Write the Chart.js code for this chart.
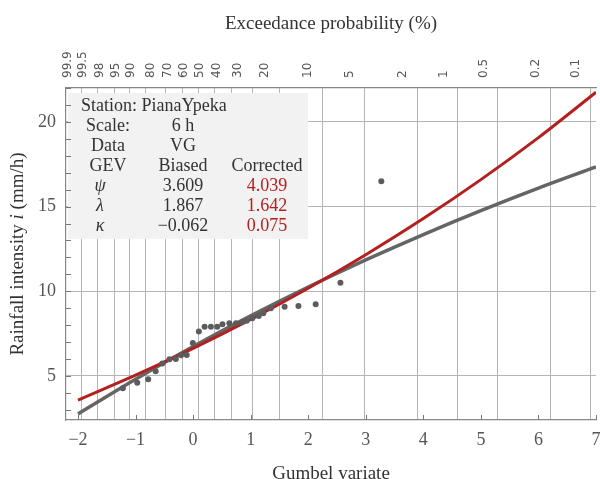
<!DOCTYPE html>
<html>
<head>
<meta charset="utf-8">
<script src="https://cdn.jsdelivr.net/npm/chart.js@4.4.0/dist/chart.umd.min.js"></script>
<style>
  html, body { margin: 0; padding: 0; background: #fff; }
</style>
</head>
<body>
<canvas id="chart" width="600" height="479"></canvas>
<script>
const curveX = [-2, -1, 0, 1, 2, 3, 4, 5, 6, 7];
const biasedFit = [2.76, 4.81, 6.74, 8.55, 10.25, 11.85, 13.35, 14.76, 16.09, 17.34];
const correctedFit = [3.58, 5.05, 6.63, 8.34, 10.18, 12.16, 14.29, 16.59, 19.07, 21.75];

// observed maxima (Gumbel variate, intensity)
const obsX = [-1.22, -0.97, -0.78, -0.65, -0.535, -0.41, -0.30, -0.21, -0.11, -0.005, 0.10, 0.20, 0.31, 0.42,
  0.51, 0.63, 0.745, 0.85, 0.93, 1.03, 1.14, 1.22, 1.35, 1.59, 1.83, 2.13, 2.56, 3.27];
const obsY = [4.27, 4.60, 4.80, 5.28, 5.73, 5.98, 6.00, 6.22, 6.24, 6.95, 7.62, 7.91, 7.91, 7.91,
  8.05, 8.11, 8.11, 8.17, 8.26, 8.40, 8.54, 8.70, 8.99, 9.09, 9.13, 9.23, 10.5, 16.5];

// axis ticks
const bottomTicks = [-2, -1, 0, 1, 2, 3, 4, 5, 6, 7];
const leftTicks = [5, 10, 15, 20];
const leftMinor = [3, 4, 5, 6, 7, 8, 9, 10, 11, 12, 13, 14, 15, 16, 17, 18, 19, 20, 21, 22];
const probLabels = ['99.9', '99.5', '98', '95', '90', '80', '70', '60', '50', '40', '30', '20',
  '10', '5', '2', '1', '0.5', '0.2', '0.1'];

// exceedance probability (%) -> Gumbel reduced variate
const gumbelOf = p => -Math.log(-Math.log(1 - p / 100));

const red = '#b3201f';
const grey = '#656565';
const serif = '"Liberation Serif", "Times New Roman", serif';

Chart.defaults.font.family = serif;
Chart.defaults.color = '#555';

const decor = {
    id: 'decor',
    beforeDatasetsDraw(chart) {
        const { ctx, chartArea: a, scales: { x, y } } = chart;
        const bx = a.left + 2, by = a.top + 5;
        ctx.save();
        // parameter box
        ctx.fillStyle = '#f2f2f2';
        ctx.fillRect(bx, by, 240, 146);

        // inward tick marks
        ctx.strokeStyle = '#777';
        ctx.lineWidth = 1;
        ctx.beginPath();
        bottomTicks.forEach(v => {
            const px = Math.round(x.getPixelForValue(v)) + 0.5;
            ctx.moveTo(px, a.bottom);
            ctx.lineTo(px, a.bottom - 5);
        });
        leftMinor.forEach(v => {
            const py = Math.round(y.getPixelForValue(v)) + 0.5;
            ctx.moveTo(a.left, py);
            ctx.lineTo(a.left + 5, py);
        });
        ctx.stroke();

        // table text
        ctx.fillStyle = '#333';
        ctx.textBaseline = 'middle';
        ctx.font = '18px ' + serif;
        ctx.textAlign = 'left';
        ctx.fillText('Station: PianaYpeka', bx + 13, by + 13);
        const c1 = bx + 40, cg = bx + 32, c2 = bx + 115, c3 = bx + 199;
        const row = i => by + 13 + i * 20;
        ctx.textAlign = 'center';
        ctx.fillText('Scale:', c1, row(1));
        ctx.fillText('6 h', c2, row(1));
        ctx.fillText('Data', c1, row(2));
        ctx.fillText('VG', c2, row(2));
        ctx.fillText('GEV', c1, row(3));
        ctx.fillText('Biased', c2, row(3));
        ctx.fillText('Corrected', c3, row(3));
        ctx.fillText('3.609', c2, row(4));
        ctx.fillText('1.867', c2, row(5));
        ctx.fillText('\u22120.062', c2, row(6));
        ctx.fillStyle = red;
        ctx.fillText('4.039', c3, row(4));
        ctx.fillText('1.642', c3, row(5));
        ctx.fillText('0.075', c3, row(6));
        ctx.fillStyle = '#333';
        ctx.font = 'italic 18px ' + serif;
        ctx.fillText('\u03c8', cg, row(4));
        ctx.fillText('\u03bb', cg, row(5));
        ctx.fillText('\u03ba', cg, row(6));
        ctx.restore();
    },
    afterDraw(chart) {
        // y axis title with italic i
        const { ctx, chartArea: a } = chart;
        const parts = [['Rainfall intensity ', ''], ['i', 'italic '], [' (mm/h)', '']];
        ctx.save();
        ctx.translate(18, (a.top + a.bottom) / 2);
        ctx.rotate(-Math.PI / 2);
        ctx.fillStyle = '#333';
        ctx.textBaseline = 'middle';
        ctx.textAlign = 'left';
        let total = 0;
        parts.forEach(p => { ctx.font = p[1] + '19px ' + serif; total += ctx.measureText(p[0]).width; });
        let cx = -total / 2;
        parts.forEach(p => {
            ctx.font = p[1] + '19px ' + serif;
            ctx.fillText(p[0], cx, 0);
            cx += ctx.measureText(p[0]).width;
        });
        ctx.restore();
    }
};

new Chart(document.getElementById('chart'), {
    type: 'line',
    data: {
        datasets: [
            {
                type: 'scatter',
                data: obsX.map((v, i) => ({ x: v, y: obsY[i] })),
                pointRadius: 3,
                pointBackgroundColor: '#5c5c5c',
                pointBorderWidth: 0,
                showLine: false
            },
            {
                data: curveX.map((v, i) => ({ x: v, y: correctedFit[i] })),
                borderColor: red,
                borderWidth: 3,
                pointRadius: 0,
                cubicInterpolationMode: 'monotone'
            },
            {
                data: curveX.map((v, i) => ({ x: v, y: biasedFit[i] })),
                borderColor: grey,
                borderWidth: 3.5,
                pointRadius: 0,
                cubicInterpolationMode: 'monotone'
            }
        ]
    },
    options: {
        responsive: false,
        animation: false,
        devicePixelRatio: 1,
        layout: { padding: 0 },
        plugins: { legend: { display: false }, tooltip: { enabled: false } },
        scales: {
            x: {
                type: 'linear',
                position: 'bottom',
                min: -2.208,
                max: 7,
                afterBuildTicks: s => { s.ticks = bottomTicks.map(v => ({ value: v })); },
                afterFit: s => { s.height = 59; s.paddingLeft = 0; s.paddingRight = 0; },
                grid: { display: false },
                border: { color: '#888', width: 1.2 },
                ticks: {
                    padding: 1,
                    font: { size: 18 },
                    color: '#555',
                    autoSkip: false,
                    maxRotation: 0,
                    callback: v => String(v).replace('-', '\u2212')
                },
                title: {
                    display: true,
                    text: 'Gumbel variate',
                    color: '#333',
                    font: { size: 19 },
                    padding: { top: 0, bottom: -6 }
                }
            },
            xTop: {
                type: 'linear',
                position: 'top',
                min: -2.208,
                max: 7,
                afterBuildTicks: s => { s.ticks = probLabels.map(p => ({ value: gumbelOf(parseFloat(p)) })); },
                afterFit: s => { s.height = 88; s.paddingLeft = 0; s.paddingRight = 0; },
                grid: { color: '#b4b4b4', lineWidth: 1, drawTicks: false },
                border: { color: '#888', width: 1.2 },
                ticks: {
                    padding: 10,
                    autoSkip: false,
                    minRotation: 90,
                    maxRotation: 90,
                    color: '#555',
                    font: { family: '"DejaVu Sans", sans-serif', size: 12 },
                    callback: (v, i) => probLabels[i]
                },
                title: {
                    display: true,
                    text: 'Exceedance probability (%)',
                    color: '#333',
                    font: { size: 19 },
                    padding: { top: 13, bottom: 0 }
                }
            },
            y: {
                type: 'linear',
                min: 2.4,
                max: 22,
                afterBuildTicks: s => { s.ticks = leftTicks.map(v => ({ value: v })); },
                afterFit: s => { s.width = 66; },
                grid: { color: '#b4b4b4', lineWidth: 1, drawTicks: false },
                border: { color: '#888', width: 1.2 },
                ticks: { padding: 10, font: { size: 18 }, color: '#555' }
            }
        }
    },
    plugins: [decor]
});
</script>
</body>
</html>
